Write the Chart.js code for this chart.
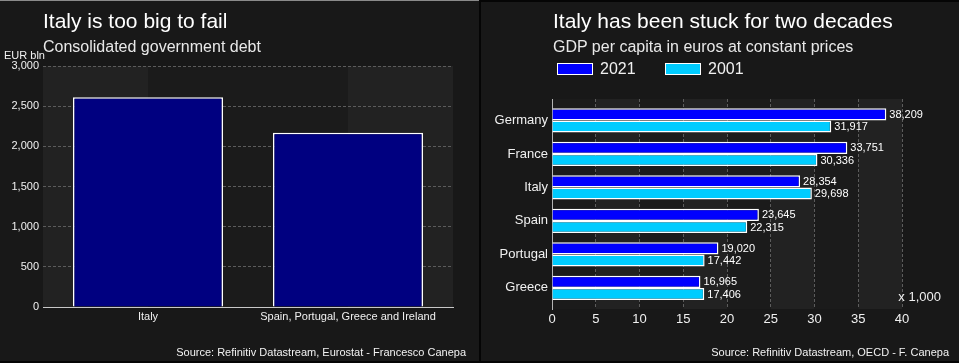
<!DOCTYPE html>
<html>
<head>
<meta charset="utf-8">
<script src="https://cdn.jsdelivr.net/npm/chart.js@4/dist/chart.umd.min.js"></script>
<style>
  html, body { margin:0; padding:0; }
  body { width:959px; height:363px; overflow:hidden; position:relative; background:#181818;
         font-family:"Liberation Sans", Arial, sans-serif; color:#fff; }
  canvas { position:absolute; top:0; }
  .t { position:absolute; white-space:nowrap; }
  .title { font-size:21px; line-height:21px; color:#fff; }
  .sub { font-size:16px; line-height:16px; color:#e8e8e8; }
  .small { font-size:11px; line-height:11px; color:#f2f2f2; }
  .leg { font-size:16px; line-height:16px; color:#f0f0f0; }
  .box { position:absolute; width:36px; height:12px; box-sizing:border-box; border:1.5px solid #fff; }
</style>
</head>
<body>
<div style="position:absolute;left:0;top:0;width:480px;height:1px;background:#8a8a8a"></div>
<div style="position:absolute;left:481px;top:0;width:478px;height:2px;background:#050505"></div>
<div style="position:absolute;left:479px;top:0;width:2px;height:363px;background:#050505"></div>
<div style="position:absolute;left:0;top:361px;width:959px;height:2px;background:#050505"></div>

<canvas id="c1" width="479" height="361" style="left:0px;top:1px"></canvas>
<canvas id="c2" width="478" height="361" style="left:481px;top:2px"></canvas>

<div class="t title" style="left:43px;top:10px">Italy is too big to fail</div>
<div class="t sub" style="left:43px;top:39px">Consolidated government debt</div>
<div class="t small" style="left:4px;top:50px">EUR bln</div>
<div class="t small" style="right:493px;top:347px">Source: Refinitiv Datastream, Eurostat - Francesco Canepa</div>

<div class="t title" style="left:553px;top:10px">Italy has been stuck for two decades</div>
<div class="t sub" style="left:553px;top:39px">GDP per capita in euros at constant prices</div>
<div id="legend"></div>
<div class="t" style="right:18px;top:290px;font-size:13px;line-height:13px;color:#f0f0f0">x 1,000</div>
<div class="t small" style="right:10px;top:347px">Source: Refinitiv Datastream, OECD - F. Canepa</div>

<script>
// ---------- data ----------
const debtCategories = ['Italy', 'Spain, Portugal, Greece and Ireland'];
const debtValues = [2610, 2170];
const debtTicks = [0, 500, 1000, 1500, 2000, 2500, 3000];

const countries = ['Germany', 'France', 'Italy', 'Spain', 'Portugal', 'Greece'];
const seriesNames = ['2021', '2001'];
const gdp2021 = [38209, 33751, 28354, 23645, 19020, 16965];
const gdp2001 = [31917, 30336, 29698, 22315, 17442, 17406];
const gdpTicks = [0, 5, 10, 15, 20, 25, 30, 35, 40]; // x 1,000

// ---------- styles ----------
const FONT = '"Liberation Sans", Arial, sans-serif';
const TXT = '#f0f0f0';
const BAND_LIGHT = '#222222';
const BAND_DARK = '#1b1b1b';
const GRID = '#5c5c5c';
const seriesColors = ['#0000ff', '#00ccff'];

// legend (HTML)
const legendEl = document.getElementById('legend');
const legX = [557, 665];
seriesNames.forEach((n, i) => {
  const b = document.createElement('div');
  b.className = 'box';
  b.style.left = legX[i] + 'px'; b.style.top = '63px'; b.style.background = seriesColors[i];
  legendEl.appendChild(b);
  const t = document.createElement('div');
  t.className = 't leg';
  t.style.left = (legX[i] + 43) + 'px'; t.style.top = '61px';
  t.textContent = n;
  legendEl.appendChild(t);
});

// ---------- plugins ----------
const bandsLeft = {
  id: 'bandsLeft',
  beforeDraw(chart) {
    const xs = chart.scales.x, a = chart.chartArea, ctx = chart.ctx;
    const edges = [xs.min, ...xs.ticks.map(t => t.value), xs.max];
    ctx.save();
    for (let i = 0; i < edges.length - 1; i++) {
      const x0 = xs.getPixelForValue(edges[i]), x1 = xs.getPixelForValue(edges[i + 1]);
      ctx.fillStyle = (i % 2 === 0) ? BAND_LIGHT : BAND_DARK;
      ctx.fillRect(x0, a.top, x1 - x0, a.bottom - a.top);
    }
    ctx.restore();
  }
};

const bandsRight = {
  id: 'bandsRight',
  beforeDraw(chart) {
    const xs = chart.scales.x, a = chart.chartArea, ctx = chart.ctx;
    const vals = xs.ticks.map(t => t.value);
    ctx.save();
    for (let i = 0; i < vals.length - 1; i++) {
      const x0 = xs.getPixelForValue(vals[i]), x1 = xs.getPixelForValue(vals[i + 1]);
      ctx.fillStyle = (i % 2 === 1) ? BAND_LIGHT : BAND_DARK;
      ctx.fillRect(x0, a.top, x1 - x0, a.bottom - a.top);
    }
    ctx.restore();
  }
};

const valueLabels = {
  id: 'valueLabels',
  afterDatasetsDraw(chart) {
    const ctx = chart.ctx;
    ctx.save();
    ctx.font = '11px ' + FONT;
    ctx.fillStyle = '#ffffff';
    ctx.textAlign = 'left';
    ctx.textBaseline = 'middle';
    chart.data.datasets.forEach((ds, di) => {
      const meta = chart.getDatasetMeta(di);
      meta.data.forEach((el, i) => {
        const v = ds.data[i].x;
        ctx.fillText(v.toLocaleString('en-US'), el.x + 3, el.y + 0.5);
      });
    });
    ctx.restore();
  }
};

// ---------- left chart ----------
new Chart(document.getElementById('c1'), {
  type: 'bar',
  data: {
    datasets: [{
      data: debtValues.map((v, i) => ({ x: i, y: v })),
      backgroundColor: '#000080',
      borderColor: '#ffffff',
      borderWidth: 1.5,
      categoryPercentage: 0.75,
      barPercentage: 1
    }]
  },
  options: {
    responsive: false,
    animation: false,
    layout: { padding: { left: 0, right: 26, top: 65, bottom: 0 } },
    plugins: { legend: { display: false }, tooltip: { enabled: false } },
    scales: {
      x: {
        type: 'linear', min: -0.525, max: 1.525, offset: false,
        afterBuildTicks: s => { s.ticks = debtCategories.map((_, i) => ({ value: i })); },
        afterFit: s => { s.height = 55; },
        ticks: {
          callback: v => debtCategories[v] ?? '',
          color: TXT, font: { family: FONT, size: 11 },
          padding: 3, autoSkip: false, maxRotation: 0
        },
        grid: { display: false, drawTicks: false, offset: false },
        border: { display: true, color: '#c8c8c8', width: 1 }
      },
      y: {
        min: 0, max: 3000,
        afterBuildTicks: s => { s.ticks = debtTicks.map(v => ({ value: v })); },
        afterFit: s => { s.width = 43; },
        ticks: {
          callback: v => v.toLocaleString('en-US'),
          color: TXT, font: { family: FONT, size: 11 }, padding: 4
        },
        grid: { color: c => c.tick && c.tick.value === 0 ? 'rgba(0,0,0,0)' : GRID, drawTicks: false, lineWidth: 1 },
        border: { display: false, dash: [3, 2] }
      }
    }
  },
  plugins: [bandsLeft]
});

// ---------- right chart ----------
const gdpSeries = [gdp2021, gdp2001];
new Chart(document.getElementById('c2'), {
  type: 'bar',
  data: {
    datasets: gdpSeries.map((arr, si) => ({
      label: seriesNames[si],
      data: arr.map((v, i) => ({ x: v, y: i })),
      backgroundColor: seriesColors[si],
      borderColor: '#ffffff',
      borderWidth: 1.5,
      categoryPercentage: 0.725,
      barPercentage: 1
    }))
  },
  options: {
    indexAxis: 'y',
    responsive: false,
    animation: false,
    layout: { padding: { left: 0, right: 57, top: 97, bottom: 0 } },
    plugins: { legend: { display: false }, tooltip: { enabled: false } },
    scales: {
      y: {
        type: 'linear', reverse: true, min: -0.64, max: 5.63, offset: false,
        afterBuildTicks: s => { s.ticks = countries.map((_, i) => ({ value: i })); },
        afterFit: s => { s.width = 71; },
        ticks: {
          callback: v => countries[v] ?? '',
          color: TXT, font: { family: FONT, size: 13 }, padding: 4, autoSkip: false
        },
        grid: { display: false, drawTicks: false, offset: false },
        border: { display: true, color: '#b4b4b4', width: 1 }
      },
      x: {
        type: 'linear', min: 0, max: 40000, offset: false,
        afterBuildTicks: s => { s.ticks = gdpTicks.map(v => ({ value: v * 1000 })); },
        afterFit: s => { s.height = 54; },
        ticks: {
          callback: v => String(v / 1000),
          color: TXT, font: { family: FONT, size: 13 }, padding: 3, maxRotation: 0, autoSkip: false
        },
        grid: { color: c => c.tick && c.tick.value === 0 ? 'rgba(0,0,0,0)' : GRID, drawTicks: false, lineWidth: 1, offset: false },
        border: { display: false, dash: [3, 2] }
      }
    }
  },
  plugins: [bandsRight, valueLabels]
});
</script>
</body>
</html>
